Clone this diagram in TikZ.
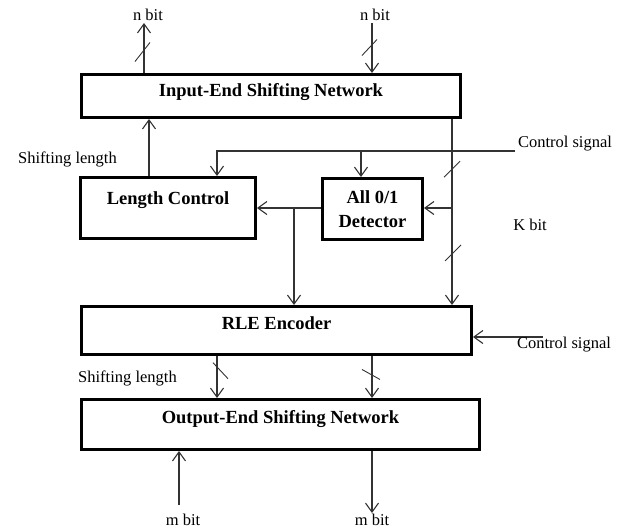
\documentclass[tikz,border=0pt]{standalone}
\usepackage{fontspec}
\setmainfont{Liberation Serif}
\definecolor{wiregray}{rgb}{0.2,0.2,0.2}
\usepackage{tikz}
\usetikzlibrary{arrows.meta}

\tikzset{
	block/.style={draw, line width=3pt, inner sep=0pt, align=center,
		font=\fontsize{18.5}{24}\selectfont\bfseries},
	wire/.style={draw=wiregray, line width=1.1pt,
		-{Straight Barb[length=9pt,width=13pt,line width=1.1pt]}},
	tick/.style={draw=wiregray, line width=0.9pt},
	note/.style={font=\fontsize{16.5}{19}\selectfont, inner sep=0pt}
}

\begin{document}
\begin{tikzpicture}[x=1pt, y=-1pt]
	\useasboundingbox (0,0) rectangle (627,528);
	% blocks
	\node[block, minimum width=379pt, minimum height=43pt, text height=12pt, text depth=12pt] (inp) at (271,96) {Input-End Shifting Network};
	\node[block, minimum width=175pt, minimum height=61pt, text height=12pt, text depth=20pt] (lc) at (168,208) {Length Control};
	\node[block, minimum width=100pt, minimum height=61pt] (det) at (372.5,209) {All 0/1\\Detector};
	\node[block, minimum width=390pt, minimum height=48pt, text height=12pt, text depth=15pt] (rle) at (276.5,330.5) {RLE Encoder};
	\node[block, minimum width=398pt, minimum height=50pt, text height=12pt, text depth=15pt] (out) at (280.5,424.5) {Output-End Shifting Network};

	% free ends
	\coordinate (nbitL) at (144,23);
	\coordinate (nbitR) at (372,23);
	\coordinate (bus) at (452,208);
	\coordinate (tap) at (294,208);
	\coordinate (ctlA) at (515,151);
	\coordinate (ctlB) at (543,337);
	\coordinate (mbitL) at (179,505);
	\coordinate (mbitR) at (372,513);

	% connectors
	\draw[wire] (inp.north -| nbitL) -- coordinate[pos=0.41] (kA) (nbitL);
	\draw[wire] (nbitR) -- coordinate[pos=0.49] (kB) (nbitR |- inp.north);
	\draw[wire] ([xshift=-19pt]lc.north) -- ([xshift=-19pt]lc.north |- inp.south);
	\draw[wire] (inp.south -| bus) -- coordinate[pos=0.27] (kC) coordinate[pos=0.72] (kD) (rle.north -| bus);
	\draw[wire] (ctlA) -| ([xshift=49pt]lc.north);
	\draw[wire] ([xshift=-11.5pt]det.north |- ctlA) -- ([xshift=-11.5pt]det.north);
	\draw[wire] (bus) -- (bus -| det.east);
	\draw[wire] (tap -| det.west) -- (tap -| lc.east);
	\draw[wire] (tap) -- (tap |- rle.north);
	\draw[wire] (ctlB) -- (ctlB -| rle.east);
	\draw[wire] ([xshift=-59.5pt]rle.south) -- coordinate[pos=0.35] (kE) ([xshift=-59.5pt]rle.south |- out.north);
	\draw[wire] ([xshift=95.5pt]rle.south) -- coordinate[pos=0.44] (kF) ([xshift=95.5pt]rle.south |- out.north);
	\draw[wire] (mbitL) -- (mbitL |- out.south);
	\draw[wire] (out.south -| mbitR) -- (mbitR);

	% bus width marks
	\draw[tick] ([shift={(-9,9)}]kA) -- ([shift={(6,-10)}]kA);
	\draw[tick] ([shift={(-10,8)}]kB) -- ([shift={(5,-8)}]kB);
	\draw[tick] ([shift={(-8,8)}]kC) -- ([shift={(8,-8)}]kC);
	\draw[tick] ([shift={(-7,8)}]kD) -- ([shift={(9,-8)}]kD);
	\draw[tick] ([shift={(-4,-8)}]kE) -- ([shift={(11,8)}]kE);
	\draw[tick] ([shift={(-10,-5)}]kF) -- ([shift={(8,5)}]kF);

	% labels
	\node[note] (nL) at (148,15) {n bit};
	\node[note] (nR) at (375,15) {n bit};
	\node[note] (shA) at (67.5,159) {Shifting length};
	\node[note] (csA) at (565,144) {Control signal};
	\node[note] (kbit) at (530,225) {K bit};
	\node[note] (csB) at (564,345) {Control signal};
	\node[note] (shB) at (127.5,378) {Shifting length};
	\node[note] (mL) at (183,520) {m bit};
	\node[note] (mR) at (372,520) {m bit};
\end{tikzpicture}
\end{document}
